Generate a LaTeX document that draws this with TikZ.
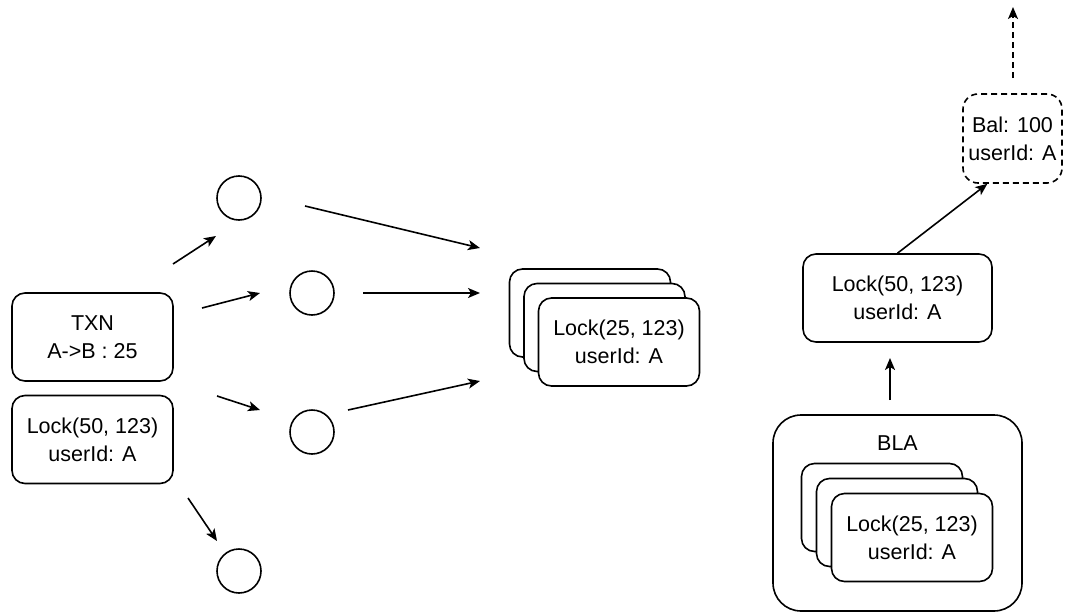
\documentclass[tikz,border=0pt]{standalone}
\usepackage{fontspec}
\setmainfont{Liberation Sans}
\usetikzlibrary{arrows.meta,calc}

\tikzset{
  base/.style={draw=black, line width=1.6pt, fill=white, align=center,
    font=\fontsize{21.5}{28}\selectfont, inner sep=0pt},
  card/.style={base, rounded corners=13pt, minimum width=161pt, minimum height=88pt},
  widecard/.style={base, rounded corners=13pt, minimum width=189pt, minimum height=88pt},
  balbox/.style={base, dashed, dash pattern=on 6pt off 4pt, rounded corners=15pt,
    minimum width=99pt, minimum height=89pt},
  group/.style={base, rounded corners=28pt, minimum width=249pt, minimum height=196pt},
  ring/.style={draw=black, line width=1.6pt, circle, minimum size=44pt, inner sep=0pt},
  label/.style={align=center, font=\fontsize{21.5}{28}\selectfont, inner sep=0pt},
  flow/.style={line width=1.6pt, -{Stealth[length=12pt,width=10pt,inset=3pt]}},
}

\begin{document}
\begin{tikzpicture}[x=1pt, y=-1pt]
  \useasboundingbox (0,0) rectangle (1067,613);

  % transaction and its lock on the left
  \node[card] (txn) at (92.5,337) {TXN\\A->B : 25};
  \node[card] (lockL) at (92.5,439.5) {Lock(50, 123)\\userId: A};

  % fan-out circles
  \node[ring] (c1) at (239,198) {};
  \node[ring] (c2) at (312,293) {};
  \node[ring] (c3) at (312,432) {};
  \node[ring] (c4) at (239,571) {};

  % stacked locks in the middle
  \node[card] (mback) at (590,313) {};
  \node[card] (mmid) at (604.5,327.5) {};
  \node[card] (mfront) at (619,342) {Lock(25, 123)\\userId: A};

  % right column
  \node[group] (bla) at (897.5,513) {};
  \node[label] (blaname) at (897.5,443) {BLA};
  \node[card] (iback) at (882,507.5) {};
  \node[card] (imid) at (897,522.5) {};
  \node[card] (ifront) at (912,537.5) {Lock(25, 123)\\userId: A};

  \node[widecard] (lockR) at (897.5,298) {Lock(50, 123)\\userId: A};
  \node[balbox] (bal) at (1012.5,138.5) {Bal: 100\\userId: A};

  % free arrow ends
  \coordinate (a1s) at (173,264); \coordinate (a1e) at (216,236);
  \coordinate (a2s) at (202,308); \coordinate (a2e) at (260,293);
  \coordinate (a3s) at (217,396); \coordinate (a3e) at (260,410);
  \coordinate (a4s) at (188,498); \coordinate (a4e) at (217,541);
  \coordinate (b1s) at (305,206); \coordinate (b1e) at (480,248);
  \coordinate (b2s) at (363,293); \coordinate (b2e) at (480,293);
  \coordinate (b3s) at (348,410); \coordinate (b3e) at (480,381);
  \coordinate (ups) at (890,400); \coordinate (upe) at (890,358);
  \coordinate (outs) at (1013,78); \coordinate (oute) at (1013,7);

  \draw[flow] (a1s) -- (a1e);
  \draw[flow] (a2s) -- (a2e);
  \draw[flow] (a3s) -- (a3e);
  \draw[flow] (a4s) -- (a4e);
  \draw[flow] (b1s) -- (b1e);
  \draw[flow] (b2s) -- (b2e);
  \draw[flow] (b3s) -- (b3e);
  \draw[flow] (ups) -- (upe);
  \draw[flow] (lockR.north) -- ($(bal.south west)!0.25!(bal.south east)$);
  \draw[flow, dashed, dash pattern=on 6pt off 4pt] (outs) -- (oute);
\end{tikzpicture}
\end{document}
